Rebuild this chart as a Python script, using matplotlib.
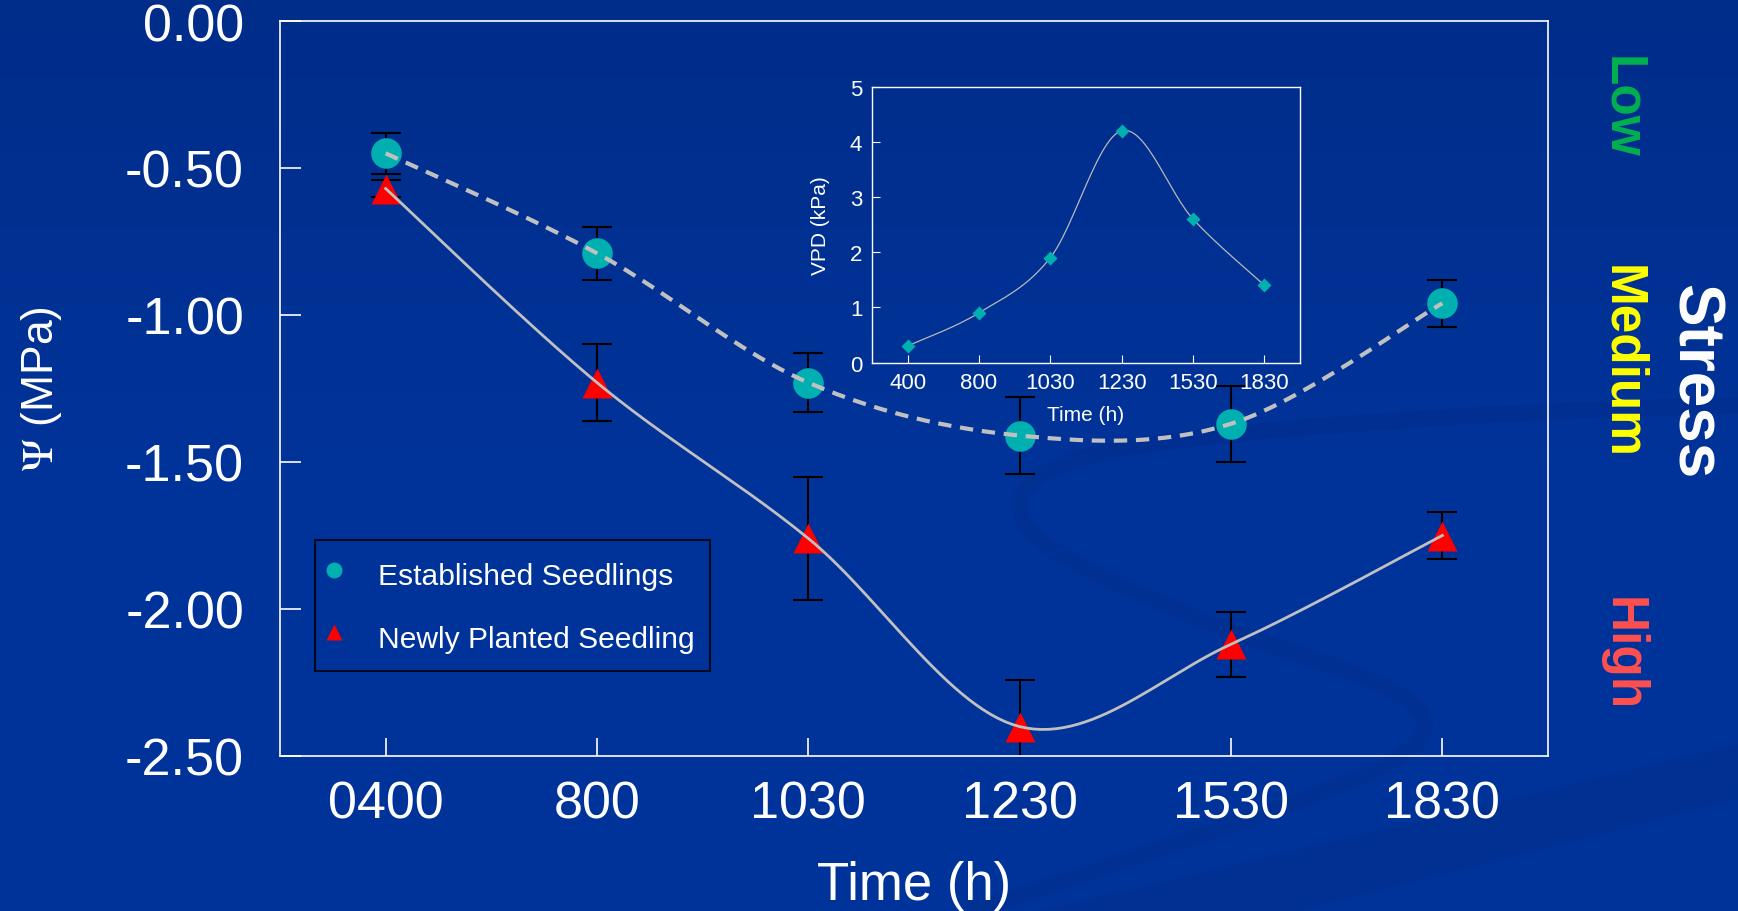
import numpy as np
import matplotlib.pyplot as plt
from matplotlib.colors import LinearSegmentedColormap

plt.rcParams['font.family'] = ['Liberation Sans', 'DejaVu Sans']
plt.rcParams['axes.unicode_minus'] = False
plt.rcParams['mathtext.fontset'] = 'stix'

# data
times = ['0400', '800', '1030', '1230', '1530', '1830']
est_mean = [-0.45, -0.79, -1.23, -1.41, -1.37, -0.96]
est_err = [0.07, 0.09, 0.10, 0.13, 0.13, 0.08]
new_mean = [-0.57, -1.23, -1.76, -2.40, -2.12, -1.75]
new_err = [0.03, 0.13, 0.21, 0.16, 0.11, 0.08]
y_ticks = [0.0, -0.5, -1.0, -1.5, -2.0, -2.5]

inset_times = ['400', '800', '1030', '1230', '1530', '1830']
vpd = [0.3, 0.9, 1.9, 4.2, 2.6, 1.4]

BG = '#003399'
TEAL = '#00b0b0'
GREY = '#c0c0c0'


def smooth(x, y, n=30):
    # smoothed line through the points (like the "smoothed line" option of office charts)
    pts = np.column_stack([np.asarray(x, float), np.asarray(y, float)])
    t = np.linspace(0, 1, n)[:, None]
    out = []
    for i in range(len(pts) - 1):
        p0 = pts[max(i - 1, 0)]
        p1, p2 = pts[i], pts[i + 1]
        p3 = pts[min(i + 2, len(pts) - 1)]
        c1 = p1 + (p2 - p0) / 6
        c2 = p2 - (p3 - p1) / 6
        seg = (1 - t)**3 * p1 + 3 * (1 - t)**2 * t * c1 + 3 * (1 - t) * t**2 * c2 + t**3 * p2
        out.append(seg if i == 0 else seg[1:])
    out = np.vstack(out)
    return out[:, 0], out[:, 1]


fig = plt.figure(figsize=(17.38, 9.12), dpi=100, facecolor=BG)

# slide background: slight gradient + darker swooshes (decoration only)
bg = fig.add_axes([0, 0, 1, 1], zorder=-10)
bg.set_xlim(0, 1738)
bg.set_ylim(912, 0)
bg.axis('off')
grad = np.linspace(0, 1, 256)[:, None]
cmap = LinearSegmentedColormap.from_list('bgc', ['#002d8a', '#003399', '#003399'])
bg.imshow(grad, extent=[0, 1738, 912, 0], cmap=cmap, aspect='auto')
bg.fill([1040, 1738, 1738, 1300], [912, 745, 800, 912], color='#002a80', alpha=0.3, lw=0)
swx = [1760, 1450, 1150, 1030, 1045, 1200, 1390, 1420, 1330, 1100, 930]
swy = [405, 418, 445, 485, 545, 620, 690, 740, 790, 870, 925]
px, py = smooth(swx, swy)
bg.plot(px, py, color='#002a80', lw=12, alpha=0.25, solid_capstyle='butt')

# main chart
ax = fig.add_axes([280 / 1738, 155 / 912, 1268 / 1738, 735 / 912])
ax.set_facecolor('none')
x = np.arange(len(times))

ax.errorbar(x, est_mean, yerr=est_err, fmt='none', ecolor='black',
            elinewidth=1.5, capsize=11, capthick=1.5, zorder=2)
ax.errorbar(x, new_mean, yerr=new_err, fmt='none', ecolor='black',
            elinewidth=1.5, capsize=11, capthick=1.5, zorder=2)
ax.plot(x, est_mean, 'o', ms=22, color=TEAL, mec='none',
        label='Established Seedlings', zorder=3)
ax.plot(x, new_mean, '^', ms=22, color='red', mec='none',
        label='Newly Planted Seedling', zorder=3)

sx, sy = smooth(x, est_mean)
ax.plot(sx, sy, color=GREY, lw=3, dashes=(3.2, 2.1), zorder=4)
sx, sy = smooth(x, new_mean)
ax.plot(sx, sy, color=GREY, lw=2, zorder=4)

ax.set_xlim(-0.5, 5.5)
ax.set_ylim(-2.5, 0)
ax.set_xticks(x, times)
ax.set_yticks(y_ticks, [f'{v:.2f}' for v in y_ticks])
for s in ax.spines.values():
    s.set_color('white')
    s.set_linewidth(1.2)
ax.tick_params(axis='y', direction='in', length=15, width=1.2, colors='white',
               labelsize=37.5, pad=26)
ax.tick_params(axis='x', direction='in', length=13, width=1.2, colors='white',
               labelsize=37.5, pad=17)
ax.set_xlabel('Time (h)', fontsize=38, color='white')
ax.xaxis.set_label_coords(0.5, -0.142)
ax.set_ylabel(r'$\Psi$ (MPa)', fontsize=32, color='white')
ax.yaxis.set_label_coords(-0.170, 0.5)

leg = ax.legend(loc='upper left', bbox_to_anchor=(0.0276, 0.2939), fontsize=21.6,
                frameon=True, fancybox=False, edgecolor='black', facecolor='none',
                borderpad=0.5, labelspacing=0.8, handlelength=0.3, handleheight=1.6,
                handletextpad=1.3, borderaxespad=0, markerscale=0.52, numpoints=1)
leg.get_frame().set_linewidth(1.5)
for t in leg.get_texts():
    t.set_color('white')

# inset: VPD
axi = fig.add_axes([872 / 1738, 1 - 363.5 / 912, 428 / 1738, 275.9 / 912])
axi.set_facecolor('none')
sx, sy = smooth(x, vpd)
axi.plot(sx, sy, color='#b8b8b8', lw=0.9, zorder=2)
axi.plot(x, vpd, 'D', ms=7, color=TEAL, mec='none', zorder=3)
axi.set_xlim(-0.5, 5.5)
axi.set_ylim(0, 5)
axi.set_xticks(x, inset_times)
axi.set_yticks(range(6))
for s in axi.spines.values():
    s.set_color('white')
    s.set_linewidth(1)
axi.tick_params(direction='in', length=6, width=0.8, colors='white',
                labelsize=16, pad=7)
axi.set_ylabel('VPD (kPa)', fontsize=15, color='white')
axi.yaxis.set_label_coords(-0.098, 0.5)
axi.set_xlabel('Time (h)', fontsize=15, color='white')
axi.xaxis.set_label_coords(0.5, -0.154)

# stress scale on the right
fig.text(1694 / 1738, 1 - 382 / 912, 'Stress', rotation=-90, ha='center', va='center',
         fontsize=46, fontweight='bold', color='white')
fig.text(1622 / 1738, 1 - 107 / 912, 'Low', rotation=-90, ha='center', va='center',
         fontsize=37, fontweight='bold', color='#00b050')
fig.text(1622 / 1738, 1 - 362 / 912, 'Medium', rotation=-90, ha='center', va='center',
         fontsize=37, fontweight='bold', color='#ffff00')
fig.text(1622 / 1738, 1 - 654 / 912, 'High', rotation=-90, ha='center', va='center',
         fontsize=37, fontweight='bold', color='#ff5050')

fig.savefig('out.png', dpi=100, facecolor=BG)
